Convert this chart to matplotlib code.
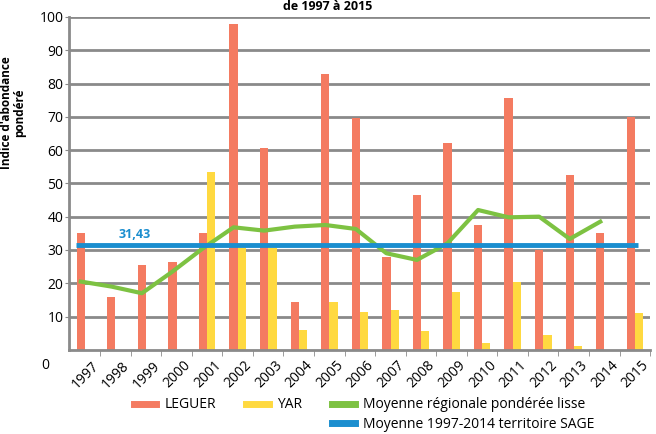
import numpy as np
import matplotlib.pyplot as plt
from matplotlib.lines import Line2D

plt.rcParams['font.family'] = ['Open Sans', 'DejaVu Sans']

years = [str(y) for y in range(1997, 2016)]
leguer = [35, 16, 25.5, 26.5, 35, 98, 60.5, 14.5, 83, 69.5, 28, 46.5, 62, 37.5, 75.5, 30, 52.5, 35, 70]
yar = [0, 0, 0, 0, 53.5, 30.5, 30.5, 6, 14.5, 11.5, 12, 5.5, 17.5, 2, 20.5, 4.5, 1, 0, 11]
moy_regionale = [20.5, 19, 17, 23.5, 30.5, 36.8, 35.8, 37, 37.5, 36.3, 29, 27, 32, 42, 39.8, 40, 33.3, 38.5]
moy_sage = 31.43

c_leguer = '#F47B61'
c_yar = '#FFD940'
c_green = '#7DC242'
c_blue = '#1B8ECF'
c_grid = '#8A8A8A'

x = np.arange(len(years))
w = 0.27

fig = plt.figure(figsize=(6.56, 4.34), dpi=100)
ax = fig.add_axes([0.105, 0.194, 0.886, 0.767])

ax.set_axisbelow(True)
ax.yaxis.grid(True, color=c_grid, linewidth=2)
ax.bar(x - 0.05, leguer, width=w, color=c_leguer, zorder=2)
ax.bar(x + 0.22, yar, width=w, color=c_yar, zorder=2)
ax.plot(np.arange(len(moy_regionale)) - 0.05, moy_regionale, color=c_green, linewidth=3, zorder=3)
ax.hlines(moy_sage, -0.2, 18.2, color=c_blue, linewidth=3.5, zorder=4)
ax.text(1.7, moy_sage + 2.3, '31,43', color=c_blue, fontsize=9, fontweight='bold', ha='center')

ax.set_xlim(-0.44, 18.41)
ax.set_ylim(0, 100)
ax.set_yticks(range(10, 101, 10))
ax.tick_params(axis='y', length=3, color=c_grid, labelsize=10, pad=1)
ax.set_xticks(x + 0.3)
ax.set_xticklabels(years, rotation=45, ha='right', rotation_mode='anchor', fontsize=10)
ax.tick_params(axis='x', length=0, pad=6)
ax.set_xticks(x + 0.58, minor=True)
ax.tick_params(axis='x', which='minor', length=4, color=c_grid)
for s in ['top', 'right']:
    ax.spines[s].set_visible(False)
for s in ['left', 'bottom']:
    ax.spines[s].set_color(c_grid)
    ax.spines[s].set_linewidth(2)

fig.text(0.069, 0.157, '0', fontsize=10, ha='center', va='center')
fig.text(0.5, 0.985, 'de 1997 à 2015', fontsize=9, fontweight='bold', ha='center', va='center')
fig.text(0.02, 0.74, "Indice d'abondance\npondéré", rotation=90, fontsize=8.5, fontweight='bold',
         ha='center', va='center', linespacing=1.0)

blank = Line2D([], [], color='none')
handles = [Line2D([], [], color=c_leguer, linewidth=5), blank,
           Line2D([], [], color=c_yar, linewidth=5), blank,
           Line2D([], [], color=c_green, linewidth=5), Line2D([], [], color=c_blue, linewidth=5)]
labels = ['LEGUER', '', 'YAR', '', 'Moyenne régionale pondérée lisse', 'Moyenne 1997-2014 territoire SAGE']
fig.legend(handles, labels, ncol=3, loc='center', bbox_to_anchor=(0.555, 0.045), frameon=False,
           fontsize=10, handlelength=1.6, handletextpad=0.6, columnspacing=2.2, labelspacing=0.3)

fig.savefig('out.png', dpi=100)
